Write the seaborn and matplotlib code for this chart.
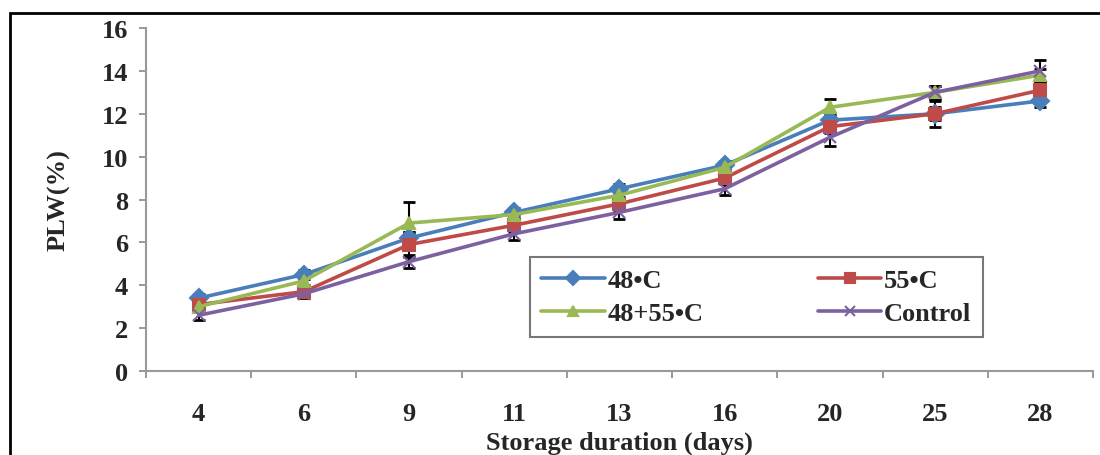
import seaborn as sns
import matplotlib.pyplot as plt
from matplotlib.patches import Rectangle

sns.set_theme(style="white")
plt.rcParams['font.family'] = ['Liberation Serif', 'DejaVu Serif']
plt.rcParams['font.weight'] = 'bold'

days = ["4", "6", "9", "11", "13", "16", "20", "25", "28"]
t48 = [3.4, 4.5, 6.2, 7.4, 8.5, 9.6, 11.7, 12.0, 12.6]
t55 = [3.1, 3.7, 5.9, 6.8, 7.8, 9.0, 11.4, 12.0, 13.1]
t48_55 = [3.0, 4.2, 6.9, 7.3, 8.2, 9.5, 12.3, 13.0, 13.8]
control = [2.6, 3.6, 5.1, 6.4, 7.4, 8.5, 10.9, 13.0, 14.0]
err48 = [0.2, 0.2, 0.3, 0.2, 0.2, 0.2, 0.3, 0.3, 0.3]
err55 = [0.2, 0.2, 0.6, 0.3, 0.3, 0.3, 0.3, 0.6, 0.4]
err48_55 = [0.2, 0.2, 1.0, 0.2, 0.3, 0.3, 0.4, 0.3, 0.3]
errctl = [0.2, 0.2, 0.3, 0.3, 0.3, 0.3, 0.4, 0.3, 0.5]

names = ["48\u2022C", "55\u2022C", "48+55\u2022C", "Control"]
series = [t48, t55, t48_55, control]
errs = [err48, err55, err48_55, errctl]
colors = ["#4A7EBB", "#BE4B48", "#98B954", "#7D60A0"]
marks = ["D", "s", "^", "x"]

pos = list(range(len(days)))

fig = plt.figure(figsize=(11, 4.56), dpi=100)
ax = fig.add_axes([0.1327, 0.1842, 0.8609, 0.7522])

for n, vals, e in zip(names, series, errs):
    ax.errorbar(pos, vals, yerr=e, fmt="none", ecolor="black",
                elinewidth=1.5, capsize=4, capthick=2, zorder=1)

for n, vals, c, m in zip(names, series, colors, marks):
    sns.lineplot(x=pos, y=vals, color=c, marker=m, markersize=9, linewidth=2.6,
                 markeredgecolor=c, markeredgewidth=1.5, label=n, ax=ax, zorder=3)

ax.set_xlim(-0.5, len(days) - 0.5)
ax.set_ylim(0, 16)
ax.set_yticks(range(0, 17, 2))
ax.set_xticks(pos)
ax.set_xticklabels(days)
ax.set_xticks([i + 0.5 for i in range(-1, len(days))], minor=True)
ax.tick_params(axis="x", which="major", length=0, pad=22, labelsize=19)
ax.tick_params(axis="x", which="minor", length=5, width=1.2, color="#888888",
               direction="out", bottom=True)
ax.tick_params(axis="y", length=5, width=1.2, color="#888888", direction="out",
               left=True, labelsize=19, pad=8)
for s in ["top", "right"]:
    ax.spines[s].set_visible(False)
for s in ["left", "bottom"]:
    ax.spines[s].set_color("#999999")
    ax.spines[s].set_linewidth(1.5)

ax.set_xlabel("Storage duration (days)", fontsize=19, fontweight="bold", labelpad=4)
ax.set_ylabel("PLW(%)", fontsize=19, fontweight="bold", labelpad=22)

h, l = ax.get_legend_handles_labels()
order = [0, 2, 1, 3]
leg = ax.legend([h[i] for i in order], [l[i] for i in order], ncol=2,
                loc="lower left", bbox_to_anchor=(0.405, 0.099, 0.479, 0.245),
                mode="expand", fontsize=19, frameon=True, fancybox=False,
                handlelength=2.4, handletextpad=0.1, borderaxespad=0,
                labelspacing=0.35, borderpad=0.45, markerscale=0.75)
leg.get_frame().set_edgecolor("#555555")
leg.get_frame().set_linewidth(1.5)

fig.patches.append(Rectangle((0.009, -0.05), 1.1, 1.019, transform=fig.transFigure,
                             fill=False, edgecolor="black", linewidth=2))

fig.savefig("out.png", dpi=100)
